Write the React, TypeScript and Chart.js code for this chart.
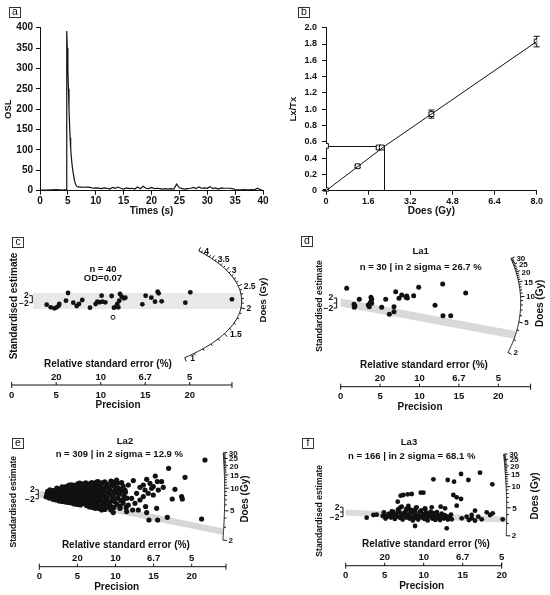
import React, { useEffect, useRef } from "react";
import { Chart, registerables } from "chart.js";

Chart.register(...registerables);

const FONT = '"Liberation Sans", Arial, Helvetica, sans-serif';
const INK = "#111";
Chart.defaults.font.family = FONT;
Chart.defaults.color = INK;

// ---------- a: OSL decay curve [time (s), OSL]
const oslTrace: [number, number][] = [
  [0, 1.5], [1, 1.5], [2, 2], [3, 2.5], [4, 1.5], [4.5, 2], [4.7, 2],
  [4.8, 392], [4.9, 350], [5.0, 300], [5.1, 250], [5.2, 200], [5.3, 165],
  [5.4, 130], [5.5, 105], [5.6, 85], [5.8, 58], [6.0, 40], [6.2, 24],
  [6.4, 15], [6.6, 11], [7, 9], [7.5, 9], [8, 8.5], [8.5, 9], [9, 8],
  [9.5, 6], [10, 7], [10.5, 6.5], [11, 5], [11.5, 7], [12, 6], [12.5, 4],
  [13, 8], [13.5, 6], [14, 9], [14.5, 6], [15, 4], [15.5, 7], [16, 5],
  [16.5, 6], [17, 4], [17.5, 9], [18, 5], [18.5, 11], [19, 6], [19.5, 5],
  [20, 8], [20.5, 5], [21, 6], [21.5, 5], [22, 4], [22.5, 5], [23, 4],
  [23.5, 5], [24, 4], [24.5, 16], [25, 7], [25.5, 5], [26, 4], [26.5, 5],
  [27, 6], [27.5, 8], [28, 5], [28.5, 9], [29, 6], [29.5, 7], [30, 6],
  [30.5, 10], [31, 5], [31.5, 7], [32, 4], [32.5, 7], [33, 6], [33.5, 6],
  [34, 6], [34.5, 5], [35, 3], [35.5, 2], [36, 2], [36.5, 2.5], [37, 2],
  [37.5, 2], [38, 2.5], [38.5, 2], [39, 6], [39.5, 3], [40, 0],
];
const oslTicksX = [0, 5, 10, 15, 20, 25, 30, 35, 40];
const oslTicksY = [0, 50, 100, 150, 200, 250, 300, 350, 400];

// ---------- b: dose response curve
const doseGiven = [0, 1.2, 2.0, 2.12, 4.0, 8.0];
const ltxValue = [0.005, 0.3, 0.53, 0.53, 0.94, 1.83];
const ltxError = [0.01, 0.015, 0.02, 0.02, 0.05, 0.065];
const naturalLtx = 0.55;
const equivalentDose = 2.2;
const fitDose = [0, 1.2, 2.2, 4, 8];
const fitLtx = [0, 0.294, 0.54, 0.94, 1.83];
const doseTicks = [0, 1.6, 3.2, 4.8, 6.4, 8.0];
const ltxTicks = [0, 0.2, 0.4, 0.6, 0.8, 1.0, 1.2, 1.4, 1.6, 1.8, 2.0];

// ---------- c-f: radial plots [precision, standardised estimate]
const precisionTicks = [0, 5, 10, 15, 20];
const rseLabels = ["20", "10", "6.7", "5"];
const rsePrecision = [5, 10, 15, 20];
const cDoseMajor = [1, 1.5, 2, 2.5, 3, 3.5, 4];
const cDoseMinor = [1.1, 1.2, 1.3, 1.4, 1.6, 1.7, 1.8, 1.9, 2.1, 2.2, 2.3, 2.4, 2.6, 2.7, 2.8, 2.9, 3.1, 3.2, 3.3, 3.4, 3.6, 3.7, 3.8, 3.9];
const laDoseMajor = [2, 5, 10, 15, 20, 25, 30];
const laDoseMinor = [3, 4, 6, 7, 8, 9, 11, 12, 13, 14, 16, 17, 18, 19, 21, 22, 23, 24, 26, 27, 28, 29];

const cPoints: [number, number][] = [
  [3.93, -3.7], [4.38, -6.3], [4.79, -7.3], [5.05, -6.3], [5.28, -4.7], [5.35, -3.0],
  [6.1, 0.3], [6.33, 8.0], [6.92, -1.7], [7.3, -5.0], [7.56, -3.0], [7.93, 1.0],
  [8.8, -6.7], [9.43, -3.0], [9.62, -0.7], [9.85, -1.3], [10.1, 5.3], [10.18, -0.7],
  [10.52, -1.3], [11.23, 5.0], [11.49, -6.7], [11.72, -5.7], [11.87, -3.0], [11.98, -6.3],
  [12.09, 0.3], [12.17, 7.0], [12.36, 4.3], [12.62, 2.7], [12.77, 3.3], [14.68, -3.3],
  [15.05, 5.3], [15.69, 3.3], [16.1, -0.7], [16.4, 9.3], [16.51, 7.7], [16.85, -0.3],
  [19.51, -1.7], [20.07, 8.7], [24.75, 1.7],
];
const cOpenPoints: [number, number][] = [[11.38, -16.3]];

const la1Points: [number, number][] = [
  [0.76, 14.2], [1.69, -1.8], [1.81, -3.5], [1.73, -4.8], [2.36, 3.2], [3.5, -2.5],
  [3.72, -0.8], [3.84, 0.8], [3.93, 3.2], [3.84, 5.2], [3.63, -4.2], [3.93, -0.8],
  [5.2, -4.8], [5.71, 3.2], [6.17, -11.8], [6.76, -4.2], [6.76, -9.2], [6.98, 10.8],
  [7.4, 4.2], [7.74, 7.5], [8.29, 5.2], [8.46, 4.5], [8.38, 6.5], [9.26, 6.8],
  [9.9, 15.2], [11.97, -2.8], [12.94, 18.5], [12.98, -13.2], [13.96, -13.2], [15.86, 9.5],
];

const la2Points: [number, number][] = [
  [0.9, -2.5], [1.0, 0.5], [1.1, 3], [1.3, -3.8], [1.4, -0.8], [1.5, 2.2], [1.4, 4.4],
  [1.8, -5], [1.7, -2.2], [1.9, 1.2], [1.8, 3.8],
  [2.2, -5.6], [2.1, -2.8], [2.3, 0.4], [2.2, 3.6], [2.3, 6.1],
  [2.6, -6.6], [2.7, -3.4], [2.5, -0.6], [2.6, 2.7], [2.7, 5.3],
  [3.0, -7.1], [3.1, -4.2], [2.9, -1.1], [3.0, 2.1], [3.1, 4.8], [3.0, 7.4],
  [3.4, -7.6], [3.3, -4.6], [3.5, -1.4], [3.4, 1.6], [3.3, 4.4], [3.5, 7.6],
  [3.8, -8.2], [3.9, -5.1], [3.7, -2.1], [3.8, 0.9], [3.9, 4.1], [3.7, 6.8], [3.9, 9.1],
  [4.2, -8.6], [4.3, -5.4], [4.1, -2.6], [4.2, 0.6], [4.3, 3.4], [4.1, 6.6], [4.2, 9.4],
  [4.6, -9.6], [4.5, -6.1], [4.7, -3.1], [4.6, 0.1], [4.5, 3.2], [4.7, 6.1], [4.6, 9.2],
  [5.0, -10.1], [5.1, -6.6], [4.9, -3.4], [5.0, -0.4], [5.1, 2.4], [4.9, 5.6], [5.0, 8.4], [5.1, 10.6],
  [5.4, -10.6], [5.3, -7.1], [5.5, -4.1], [5.4, -1.1], [5.3, 2.1], [5.5, 5.1], [5.4, 7.9], [5.3, 11.1],
  [5.8, -9.1], [5.9, -5.6], [5.7, -2.1], [5.8, 1.4], [5.9, 4.6], [5.7, 7.4], [5.8, 10.4],
  [6.2, -11.2], [6.1, -8.1], [6.3, -4.6], [6.2, -1.1], [6.1, 2.1], [6.3, 5.2], [6.2, 8.8], [6.1, 11.4],
  [6.6, -12.6], [6.7, -9.1], [6.5, -5.4], [6.6, -1.9], [6.7, 1.1], [6.5, 4.4], [6.6, 8.1], [6.7, 10.9],
  [7.0, -13.1], [6.9, -10.2], [7.1, -6.4], [7.0, -3.1], [6.9, 0.6], [7.1, 4.1], [7.0, 7.6], [6.9, 11.6],
  [7.4, -11.6], [7.5, -7.9], [7.3, -4.4], [7.4, -0.9], [7.5, 2.6], [7.3, 6.1], [7.4, 9.9], [7.5, 12.1],
  [7.8, -14.1], [7.7, -9.8], [7.9, -6.1], [7.8, -2.1], [7.7, 2.1], [7.9, 5.4], [7.8, 9.1], [7.7, 12.6],
  [8.2, -12.1], [8.3, -7.9], [8.1, -3.9], [8.2, 0.1], [8.3, 4.1], [8.1, 8.1], [8.2, 11.4],
  [8.6, -15.1], [8.5, -10.4], [8.7, -6.1], [8.6, -1.6], [8.5, 3.1], [8.7, 7.1], [8.6, 12.4],
  [9.0, -12.9], [9.1, -8.6], [8.9, -3.9], [9.0, 1.1], [9.1, 5.6], [8.9, 9.9],
  [9.4, -15.6], [9.3, -10.9], [9.5, -6.1], [9.4, -0.9], [9.3, 4.1], [9.5, 9.1], [9.4, 13.1],
  [9.8, -13.1], [9.9, -7.4], [9.7, -2.6], [9.8, 2.6], [9.9, 7.4], [9.7, 12.1],
  [10.2, -9.9], [10.3, -3.9], [10.1, 1.1], [10.2, 6.1], [10.3, 11.1],
  [10.6, -12.1], [10.7, -6.1], [10.5, 0.1], [10.6, 4.9],
  [11.0, -8.9], [11.1, -1.9], [10.9, 3.1], [11.0, 8.1],
  [11.4, -13.1], [11.5, -3.9], [11.3, 2.1],
  [21.74, 34.3], [16.97, 26], [19.12, 17], [15.22, 18.3], [14.09, 15], [12.34, 13.7],
  [16.05, 12.7], [16.27, 7], [14.96, 7.7], [15.62, 4.3], [14.74, 6], [13.65, 9.3],
  [13.21, 7], [17.8, 5], [18.68, -2.3], [17.45, -4.7], [18.77, -4.7], [15.4, -14],
  [13.95, -12.3], [14.39, -25.7], [15.53, -25.7], [16.8, -23], [21.3, -24.7], [14.09, -18.3],
  [12.99, -15.7], [12.25, -15.7], [11.46, -17.3], [9.71, -18.3], [10.59, -14], [13.21, -5.7],
  [13.65, -2.3], [14.3, 1], [14.96, -0.7], [13.87, 4.3], [14.52, 11], [15.49, 12.7],
  [12.77, 1], [12.12, -4], [12.55, -9], [11.68, -10.7], [11.02, -5.7], [11.24, 4.3],
  [11.68, 9.3], [10.37, 6], [10.8, 11.7], [10.15, 14.3], [9.71, 9.3], [8.84, -12.3],
  [8.18, -15.7], [7.31, -14], [6.43, -11.7],
];

const la3Points: [number, number][] = [
  [5.0, -3.1], [5.1, -6.0], [4.9, 0.2], [5.4, -4.1], [5.5, -1.4],
  [5.8, -5.1], [5.7, -2.1], [5.9, 1.1], [6.2, -3.0], [6.3, -6.4], [6.1, 0.6],
  [6.6, -4.1], [6.5, -0.9], [6.7, 3.1], [7.0, -5.4], [7.1, -2.6], [6.9, 0.4], [7.0, 4.9],
  [7.4, -3.6], [7.3, -7.1], [7.5, -0.4], [7.8, -5.1], [7.9, -2.1], [7.7, 1.6], [7.8, 3.9],
  [8.2, -6.1], [8.1, -3.1], [8.3, 0.1], [8.2, 3.1], [8.6, -4.6], [8.7, -1.1], [8.5, 2.4], [8.6, -8.1],
  [9.0, -5.6], [9.1, -2.4], [8.9, 0.6], [9.0, 4.6], [9.4, -3.6], [9.3, -7.1], [9.5, 0.9],
  [9.8, -5.1], [9.9, -1.6], [9.7, 2.1], [10.2, -3.1], [10.1, -6.4], [10.3, 0.1], [10.2, 3.4],
  [10.6, -4.6], [10.7, -1.1], [10.5, -7.9], [11.0, -2.6], [11.1, -6.1], [10.9, 0.9],
  [11.4, -4.1], [11.3, -0.6], [11.5, -7.4], [11.8, -2.6], [11.9, -5.6], [11.7, 0.4],
  [12.2, -4.1], [12.3, -1.1], [12.6, -6.1], [12.7, -2.6], [13.0, -4.1], [13.1, -7.1],
  [13.4, -5.1], [13.5, -2.1],
  [11.24, 33.2], [13.08, 32.5], [13.89, 30.8], [14.79, 38.5], [15.73, 32.5], [17.22, 39.8],
  [18.8, 28.2], [7.05, 16.8], [7.39, 17.5], [7.95, 18.2], [8.46, 18.5], [9.62, 19.8],
  [9.96, 19.8], [13.8, 17.5], [14.23, 15.2], [14.79, 13.5], [6.67, 10.8], [14.23, 6.8],
  [11.03, 5.2], [12.18, 5.8], [12.74, 4.2], [16.58, 1.8], [18.08, 0.2], [18.85, -0.8],
  [8.89, -13.5], [12.95, -15.8], [20.13, -6.8], [2.69, -5.2], [3.55, -2.5], [3.97, -2.2],
  [4.74, -3.5], [8.03, 6.5], [9.1, 5.2], [10.17, 4.2], [7.18, 5.8], [14.87, -5.8],
  [15.5, -4.2], [16.15, -5.8], [17.0, -4.2], [17.44, -6.8], [18.5, -2.5], [16.15, -2.5],
  [15.8, -7.5], [16.58, -8.2], [12.1, -7.5], [13.6, -6.8],
];

// ---------- helpers
const fontOf = (size: number, weight = "bold") => `${weight} ${size}px ${FONT}`;

function panelLetter(letter: string, x: number, y: number) {
  return {
    id: "panelLetter",
    afterDraw(chart: any) {
      const ctx = chart.ctx;
      ctx.save();
      ctx.strokeStyle = "#333";
      ctx.lineWidth = 1;
      ctx.strokeRect(Math.round(x) + 0.5, Math.round(y) + 0.5, 11, 10);
      ctx.fillStyle = INK;
      ctx.font = fontOf(10.5, "normal");
      ctx.textAlign = "center";
      ctx.textBaseline = "middle";
      ctx.fillText(letter, Math.round(x) + 6, Math.round(y) + 5.5);
      ctx.restore();
    },
  };
}

function axisOpts(ticks: number[], fmt: (v: number) => string, size: number, extra: any) {
  return {
    type: "linear",
    min: ticks[0],
    max: ticks[ticks.length - 1],
    afterBuildTicks: (s: any) => {
      s.ticks = ticks.map((value) => ({ value }));
    },
    border: { display: true, color: INK, width: 1 },
    grid: { display: true, drawOnChartArea: false, drawTicks: true, tickLength: 4, color: INK },
    ticks: {
      autoSkip: false,
      maxRotation: 0,
      color: INK,
      font: { size, weight: "bold" },
      callback: (v: number) => fmt(v),
      ...extra.ticks,
    },
    title: { display: true, color: INK, ...extra.title },
    afterFit: extra.afterFit,
  };
}

function OslChart() {
  const ref = useRef<HTMLCanvasElement | null>(null);
  useEffect(() => {
    if (!ref.current) return;
    const chart = new Chart(ref.current, {
      type: "line",
      data: {
        datasets: [
          {
            data: oslTrace.map(([x, y]) => ({ x, y })),
            borderColor: INK,
            borderWidth: 1.2,
            pointRadius: 0,
            tension: 0,
          },
        ],
      },
      options: {
        animation: false,
        responsive: false,
        events: [],
        layout: { padding: { left: 0, top: 27.7, right: 12, bottom: 0 }, autoPadding: false },
        plugins: { legend: { display: false }, tooltip: { enabled: false } },
        scales: {
          x: axisOpts(oslTicksX, (v) => String(v), 10, {
            ticks: { padding: 1 },
            title: { text: "Times (s)", font: { size: 10, weight: "bold" }, padding: { top: 0, bottom: 3 } },
            afterFit: (s: any) => { s.height = 29.3; },
          }),
          y: axisOpts(oslTicksY, (v) => String(v), 10, {
            ticks: { padding: 3 },
            title: { text: "OSL", font: { size: 9.5, weight: "bold" }, padding: { top: 2.6, bottom: 0 } },
            afterFit: (s: any) => { s.width = 40; },
          }),
        },
      } as any,
      plugins: [panelLetter("a", 9, 7)],
    });
    return () => chart.destroy();
  }, []);
  return <canvas ref={ref} width={275} height={220} style={{ position: "absolute", left: 0, top: 0 }} />;
}

// error bars and the natural-signal projection for panel b
const growthMarks = {
  id: "growthMarks",
  beforeDatasetsDraw(chart: any) {
    const { ctx } = chart;
    const xs = chart.scales.x;
    const ys = chart.scales.y;
    ctx.save();
    ctx.strokeStyle = INK;
    ctx.lineWidth = 1;
    const x0 = xs.getPixelForValue(0);
    const xd = Math.round(xs.getPixelForValue(equivalentDose)) + 0.5;
    const yn = Math.round(ys.getPixelForValue(naturalLtx)) + 0.5;
    ctx.beginPath();
    ctx.moveTo(x0, yn);
    ctx.lineTo(xd, yn);
    ctx.lineTo(xd, ys.getPixelForValue(0));
    ctx.stroke();
    doseGiven.forEach((d, i) => {
      const x = xs.getPixelForValue(d);
      const y1 = ys.getPixelForValue(ltxValue[i] + ltxError[i]);
      const y2 = ys.getPixelForValue(ltxValue[i] - ltxError[i]);
      ctx.beginPath();
      ctx.moveTo(x, y1);
      ctx.lineTo(x, y2);
      ctx.moveTo(x - 3, y1);
      ctx.lineTo(x + 3, y1);
      ctx.moveTo(x - 3, y2);
      ctx.lineTo(x + 3, y2);
      ctx.stroke();
    });
    ctx.restore();
  },
};

function GrowthChart() {
  const ref = useRef<HTMLCanvasElement | null>(null);
  useEffect(() => {
    if (!ref.current) return;
    const fmt = (v: number) => (v === 0 ? "0" : v.toFixed(1));
    const square = {
      type: "scatter",
      pointStyle: "rect",
      pointRadius: 3.4,
      pointBackgroundColor: "#fff",
      pointBorderColor: INK,
      pointBorderWidth: 1,
      showLine: false,
    };
    const chart = new Chart(ref.current, {
      type: "line",
      data: {
        datasets: [
          {
            data: fitDose.map((x, i) => ({ x, y: fitLtx[i] })),
            borderColor: INK,
            borderWidth: 1,
            pointRadius: 0,
          },
          { ...square, data: doseGiven.map((x, i) => ({ x, y: ltxValue[i] })) },
          { ...square, data: [{ x: 0, y: naturalLtx }] },
        ],
      },
      options: {
        animation: false,
        responsive: false,
        events: [],
        layout: { padding: { left: 0, top: 27.7, right: 13.3, bottom: 0 }, autoPadding: false },
        plugins: { legend: { display: false }, tooltip: { enabled: false } },
        scales: {
          x: axisOpts(doseTicks, fmt, 9, {
            ticks: { padding: 1 },
            title: { text: "Does (Gy)", font: { size: 10, weight: "bold" }, padding: { top: 0, bottom: 3 } },
            afterFit: (s: any) => { s.height = 29.3; },
          }),
          y: axisOpts(ltxTicks, fmt, 9, {
            ticks: { padding: 5 },
            title: { text: "Lx/Tx", font: { size: 9.5, weight: "bold" }, padding: { top: 13, bottom: 0 } },
            afterFit: (s: any) => { s.width = 51; },
          }),
        },
      } as any,
      plugins: [growthMarks, panelLetter("b", 22.7, 7)],
    });
    return () => chart.destroy();
  }, []);
  return <canvas ref={ref} width={275} height={220} style={{ position: "absolute", left: 275, top: 0 }} />;
}

type RadialSpec = {
  letter: string;
  left: number;
  top: number;
  width: number;
  height: number;
  ox: number;
  oy: number;
  sx: number;
  points: [number, number][];
  open: [number, number][];
  pointRadius: number;
  doseMajor: number[];
  doseMinor: number[];
  arc: { d0: number; k: number; rx: number; ry: number };
  arcLabelSize: number;
  band: { dose: number; from: number; half: number; color: string };
  bracket: { x: number; half: number; shift: number; mid: boolean };
  axisY: number;
  precisionMax: number;
  rseTitleX: number;
  precisionTitleX: number;
  texts: [string, number, number][];
  letterAt: [number, number];
  stdAt: [number, number, number];
  doesAt: [number, number, number];
};

function radialDecor(s: RadialSpec) {
  const arcAt = (ox: number, oy: number, d: number) => {
    const t = Math.atan(s.arc.k * Math.log(d / s.arc.d0));
    const c = Math.cos(t);
    const sn = Math.sin(t);
    const nx = s.arc.ry * c;
    const ny = s.arc.rx * sn;
    const nl = Math.hypot(nx, ny);
    return { x: ox + s.arc.rx * c, y: oy - s.arc.ry * sn, nx: nx / nl, ny: -ny / nl };
  };
  const rotated = (ctx: any, text: string, x: number, y: number, size: number) => {
    ctx.save();
    ctx.translate(x, y);
    ctx.rotate(-Math.PI / 2);
    ctx.font = fontOf(size);
    ctx.textAlign = "center";
    ctx.textBaseline = "middle";
    ctx.fillText(text, 0, 0);
    ctx.restore();
  };
  return {
    id: "radialDecor",
    beforeDatasetsDraw(chart: any) {
      const { ctx } = chart;
      const xs = chart.scales.x;
      const ys = chart.scales.y;
      const ox = xs.getPixelForValue(0);
      const oy = ys.getPixelForValue(0);
      const end = arcAt(ox, oy, s.band.dose);
      const x0 = xs.getPixelForValue(s.band.from);
      const yAt = (x: number) => oy + ((end.y - oy) * (x - ox)) / (end.x - ox);
      ctx.save();
      ctx.fillStyle = s.band.color;
      ctx.beginPath();
      ctx.moveTo(x0, yAt(x0) - s.band.half);
      ctx.lineTo(end.x, end.y - s.band.half);
      ctx.lineTo(end.x, end.y + s.band.half);
      ctx.lineTo(x0, yAt(x0) + s.band.half);
      ctx.closePath();
      ctx.fill();
      ctx.restore();
    },
    afterDatasetsDraw(chart: any) {
      const { ctx } = chart;
      const xs = chart.scales.x;
      const ys = chart.scales.y;
      const ox = xs.getPixelForValue(0);
      const oy = ys.getPixelForValue(0);
      ctx.save();
      ctx.strokeStyle = INK;
      ctx.fillStyle = INK;
      ctx.lineWidth = 1;

      // dose arc
      const lo = Math.log(s.doseMajor[0]);
      const hi = Math.log(s.doseMajor[s.doseMajor.length - 1]);
      ctx.beginPath();
      for (let i = 0; i <= 120; i++) {
        const p = arcAt(ox, oy, Math.exp(lo + ((hi - lo) * i) / 120));
        if (i === 0) ctx.moveTo(p.x, p.y);
        else ctx.lineTo(p.x, p.y);
      }
      ctx.stroke();
      const tick = (d: number, len: number) => {
        const p = arcAt(ox, oy, d);
        ctx.beginPath();
        ctx.moveTo(p.x, p.y);
        ctx.lineTo(p.x + len * p.nx, p.y + len * p.ny);
        ctx.stroke();
        return p;
      };
      s.doseMinor.forEach((d) => tick(d, 2.2));
      ctx.font = fontOf(s.arcLabelSize);
      ctx.textAlign = "left";
      ctx.textBaseline = "middle";
      s.doseMajor.forEach((d) => {
        const p = tick(d, 4);
        ctx.fillText(String(d), p.x + 5.5, p.y + 0.5);
      });

      // standardised estimate bracket
      const b = s.bracket;
      const bc = oy + b.shift;
      ctx.beginPath();
      ctx.moveTo(b.x - 3, bc - b.half);
      ctx.lineTo(b.x, bc - b.half);
      ctx.lineTo(b.x, bc + b.half);
      ctx.lineTo(b.x - 3, bc + b.half);
      if (b.mid) {
        ctx.moveTo(b.x - 3, bc);
        ctx.lineTo(b.x, bc);
      }
      ctx.stroke();
      ctx.font = fontOf(8.5);
      ctx.textAlign = "right";
      ctx.fillText("2", b.x - 3.5, bc - b.half);
      ctx.fillText("\u22122", b.x - 3.5, bc + b.half + 1);

      // precision axis with relative standard error labels
      const ay = s.axisY;
      ctx.beginPath();
      ctx.moveTo(xs.getPixelForValue(0), ay);
      ctx.lineTo(xs.getPixelForValue(s.precisionMax), ay);
      precisionTicks.forEach((p) => {
        const x = xs.getPixelForValue(p);
        ctx.moveTo(x, ay - 3);
        ctx.lineTo(x, ay + (p === 0 ? 3 : 0));
      });
      const xe = xs.getPixelForValue(s.precisionMax);
      ctx.moveTo(xe, ay - 3);
      ctx.lineTo(xe, ay + 3);
      ctx.stroke();
      ctx.textAlign = "center";
      ctx.font = fontOf(9.5);
      precisionTicks.forEach((p) => ctx.fillText(String(p), xs.getPixelForValue(p), ay + 10));
      rseLabels.forEach((t, i) => ctx.fillText(t, xs.getPixelForValue(rsePrecision[i]), ay - 8));
      ctx.font = fontOf(10);
      ctx.fillText("Relative standard error (%)", s.rseTitleX, ay - 21);
      ctx.fillText("Precision", s.precisionTitleX, ay + 20.5);

      // titles
      ctx.font = fontOf(9.5);
      s.texts.forEach(([t, x, y]) => ctx.fillText(t, x, y));
      rotated(ctx, "Standardised estimate", s.stdAt[0], s.stdAt[1], s.stdAt[2]);
      rotated(ctx, "Does (Gy)", s.doesAt[0], s.doesAt[1], s.doesAt[2]);
      ctx.restore();
    },
  };
}

function RadialChart({ spec }: { spec: RadialSpec }) {
  const ref = useRef<HTMLCanvasElement | null>(null);
  useEffect(() => {
    if (!ref.current) return;
    const s = spec;
    const chart = new Chart(ref.current, {
      type: "scatter",
      data: {
        datasets: [
          {
            data: s.points.map(([x, y]) => ({ x, y })),
            pointRadius: s.pointRadius,
            pointBackgroundColor: INK,
            pointBorderWidth: 0,
          },
          {
            data: s.open.map(([x, y]) => ({ x, y })),
            pointRadius: 2,
            pointBackgroundColor: "#fff",
            pointBorderColor: INK,
            pointBorderWidth: 1,
          },
        ],
      },
      options: {
        animation: false,
        responsive: false,
        events: [],
        layout: { padding: 0, autoPadding: false },
        plugins: { legend: { display: false }, tooltip: { enabled: false } },
        scales: {
          x: { type: "linear", display: false, min: -s.ox / s.sx, max: (s.width - s.ox) / s.sx },
          y: { type: "linear", display: false, min: s.oy - s.height, max: s.oy },
        },
      } as any,
      plugins: [radialDecor(s), panelLetter(s.letter, s.letterAt[0], s.letterAt[1])],
    });
    return () => chart.destroy();
  }, [spec]);
  return (
    <canvas
      ref={ref}
      width={spec.width}
      height={spec.height}
      style={{ position: "absolute", left: spec.left, top: spec.top }}
    />
  );
}

const panelC: RadialSpec = {
  letter: "c", left: 0, top: 210, width: 275, height: 200,
  ox: 11.7, oy: 91, sx: 8.9,
  points: cPoints, open: cOpenPoints, pointRadius: 2.4,
  doseMajor: cDoseMajor, doseMinor: cDoseMinor,
  arc: { d0: 2.145, k: 1.148, rx: 230, ry: 86 }, arcLabelSize: 8.5,
  band: { dose: 2.145, from: 2.4, half: 8, color: "#e8e8e8" },
  bracket: { x: 32.3, half: 3.5, shift: -1.8, mid: false },
  axisY: 175, precisionMax: 24.75, rseTitleX: 108, precisionTitleX: 118,
  texts: [["n = 40", 103, 59], ["OD=0.07", 103, 68]],
  letterAt: [11.5, 26.5], stdAt: [14, 96, 10], doesAt: [263.3, 90, 9.5],
};

const panelD: RadialSpec = {
  letter: "d", left: 275, top: 210, width: 275, height: 200,
  ox: 65.7, oy: 92.5, sx: 7.88,
  points: la1Points, open: [], pointRadius: 2.5,
  doseMajor: laDoseMajor, doseMinor: laDoseMinor,
  arc: { d0: 8.55, k: 0.274, rx: 180, ry: 135 }, arcLabelSize: 8,
  band: { dose: 3.46, from: 0, half: 4, color: "#d9d9d9" },
  bracket: { x: 61.7, half: 5, shift: 0.5, mid: true },
  axisY: 176.7, precisionMax: 24.1, rseTitleX: 149, precisionTitleX: 145,
  texts: [["La1", 145.7, 41.7], ["n = 30 | in 2 sigma = 26.7 %", 145.7, 57.3]],
  letterAt: [26, 26], stdAt: [45, 96, 8.6], doesAt: [265.7, 93.3, 10],
};

const panelE: RadialSpec = {
  letter: "e", left: 0, top: 410, width: 275, height: 185,
  ox: 39.3, oy: 84.3, sx: 7.62,
  points: la2Points, open: [], pointRadius: 2.6,
  doseMajor: laDoseMajor, doseMinor: laDoseMinor,
  arc: { d0: 8.3, k: 0.0985, rx: 185.4, ry: 330 }, arcLabelSize: 8,
  band: { dose: 2.6, from: 0, half: 3.2, color: "#d6d6d6" },
  bracket: { x: 38.3, half: 4.5, shift: 0, mid: true },
  axisY: 156.7, precisionMax: 24.5, rseTitleX: 125.8, precisionTitleX: 116.7,
  texts: [["La2", 125, 31.7], ["n = 309 | in 2 sigma = 12.9 %", 119.3, 44.3]],
  letterAt: [12, 28], stdAt: [14, 91.7, 8.6], doesAt: [245, 89, 10],
};

const panelF: RadialSpec = {
  letter: "f", left: 275, top: 410, width: 275, height: 185,
  ox: 70.7, oy: 102.5, sx: 7.8,
  points: la3Points, open: [], pointRadius: 2.4,
  doseMajor: laDoseMajor, doseMinor: laDoseMinor,
  arc: { d0: 4.29, k: 0.1017, rx: 161, ry: 300 }, arcLabelSize: 8,
  band: { dose: 3.39, from: 0, half: 3, color: "#dcdcdc" },
  bracket: { x: 68, half: 4.7, shift: -0.5, mid: true },
  axisY: 155.7, precisionMax: 20, rseTitleX: 151, precisionTitleX: 146.7,
  texts: [["La3", 134, 32.7], ["n = 166 | in 2 sigma = 68.1 %", 136.7, 46.7]],
  letterAt: [27, 28], stdAt: [45, 100.8, 8.6], doesAt: [260, 86, 10],
};

export default function App() {
  return (
    <div style={{ position: "absolute", left: 0, top: 0, width: 550, height: 595, background: "#fff" }}>
      <OslChart />
      <GrowthChart />
      <RadialChart spec={panelC} />
      <RadialChart spec={panelD} />
      <RadialChart spec={panelE} />
      <RadialChart spec={panelF} />
    </div>
  );
}
